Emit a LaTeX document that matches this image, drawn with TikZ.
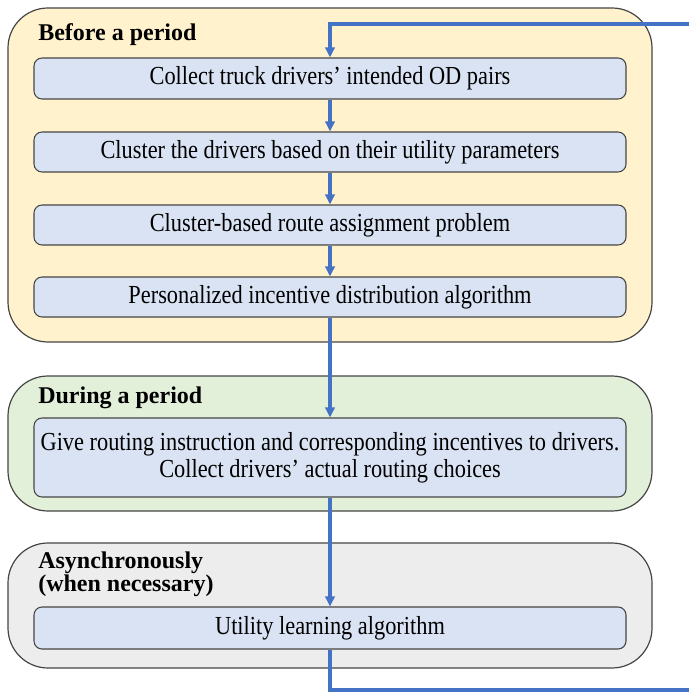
\documentclass[tikz,border=0pt]{standalone}
\usepackage{fontspec}
\setmainfont{Liberation Serif}
\newfontfamily\stepfont[FakeStretch=0.86]{Liberation Serif}
\usetikzlibrary{arrows.meta,positioning,fit}
\definecolor{Before}{HTML}{FFF2CC}
\definecolor{During}{HTML}{E2F0D9}
\definecolor{Async}{HTML}{EDEDED}
\definecolor{StepFill}{HTML}{DAE3F3}
\definecolor{Edge}{HTML}{454545}
\definecolor{Flow}{HTML}{4472C4}

\begin{document}
\begin{tikzpicture}[x=0.75pt,y=-0.75pt,
  panel/.style={draw=Edge,line width=0.9pt,rounded corners=30pt,inner sep=0pt},
  stepbox/.style={draw=Edge,line width=0.8pt,fill=StepFill,rounded corners=6pt,
    minimum width=444pt,inner sep=0pt,align=center,
    font=\stepfont\fontsize{19.5}{20.5}\selectfont},
  title/.style={anchor=west,inner sep=0pt,align=left,
    font=\fontsize{18}{17.5}\selectfont\bfseries},
  flow/.style={draw=Flow,line width=2.5pt},
  arr/.style={flow,-{Triangle[length=7.5pt,width=7pt]}}]
  \useasboundingbox (0,0) rectangle (689,698);
  % phases
  \node[panel,fill=Before,fit={(8,8) (652,342)}] (before) {};
  \node[panel,fill=During,fit={(8,376) (652,511)}] (during) {};
  \node[panel,fill=Async,fit={(8,543) (652,668)}] (async) {};
  \node[title] (beforetitle) at (38,35) {Before a period};
  \node[title] (duringtitle) at (38,398) {During a period};
  \node[title] (asynctitle) at (38,574) {Asynchronously\\(when necessary)};
  % steps
  \node[stepbox,minimum height=30.75pt] (collect) at (330,78.5) {Collect truck drivers’ intended OD pairs};
  \node[stepbox,minimum height=30pt] (cluster) at (330,152) {Cluster the drivers based on their utility parameters};
  \node[stepbox,minimum height=30pt] (routing) at (330,225) {Cluster-based route assignment problem};
  \node[stepbox,minimum height=30pt] (incentive) at (330,297) {Personalized incentive distribution algorithm};
  \node[stepbox,minimum height=59.25pt] (instruct) at (330,457.5) {Give routing instruction and corresponding incentives to drivers.\\Collect drivers’ actual routing choices};
  \node[stepbox,minimum height=31.5pt] (learning) at (330,628) {Utility learning algorithm};
  % flow
  \coordinate (loopin) at (689,24);
  \coordinate (loopout) at (689,690);
  \draw[arr] (collect) -- (cluster);
  \draw[arr] (cluster) -- (routing);
  \draw[arr] (routing) -- (incentive);
  \draw[arr] (incentive) -- (instruct);
  \draw[arr] (instruct) -- (learning);
  \draw[flow] (learning.south) |- (loopout);
  \draw[arr] (loopin) -| (collect.north);
\end{tikzpicture}
\end{document}
